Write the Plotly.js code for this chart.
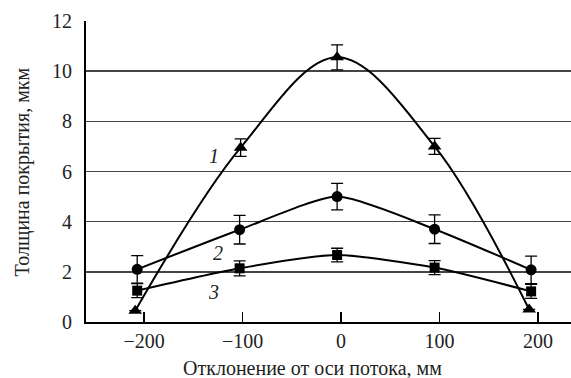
<!DOCTYPE html>
<html>
<head>
<meta charset="utf-8">
<script src="https://cdn.plot.ly/plotly-3.0.1.min.js"></script>
<style>html,body{margin:0;padding:0;background:#fff;}#chart{width:571px;height:378px;}</style>
</head>
<body>
<div id="chart"></div>
<script>
// Data
const xTri = [-209, -102, -4, 95, 191];
const yTri = [0.45, 6.95, 10.55, 7.0, 0.5];
const eTri = [0, 0.35, 0.5, 0.32, 0];

const xCirc = [-207, -103, -4, 95, 193];
const yCirc = [2.1, 3.68, 5.0, 3.7, 2.08];
const eCirc = [0.55, 0.57, 0.53, 0.57, 0.55];

const xSq = [-207, -103, -4, 95, 193];
const ySq = [1.25, 2.14, 2.67, 2.17, 1.22];
const eSq = [0.28, 0.3, 0.27, 0.28, 0.28];

const curveLabels = ["1", "2", "3"];
const labelX = [-129, -125, -130];
const labelY = [6.6, 2.76, 1.21];

const xTicks = [-200, -100, 0, 100, 200];
const xTickText = ["\u2212200", "\u2212100", "0", "100", "200"];
const yTicks = [0, 2, 4, 6, 8, 10, 12];

const xTitle = "Отклонение от оси потока, мм";
const yTitle = "Толщина покрытия, мкм";

const font = "'Liberation Serif', 'Times New Roman', serif";

function series(x, y, e, symbol, size, smooth) {
  return {
    x: x, y: y, type: 'scatter', mode: 'lines+markers',
    line: {shape: 'spline', smoothing: smooth, color: '#000', width: 2},
    marker: {symbol: symbol, size: size, color: '#000'},
    error_y: {type: 'data', array: e, visible: true, color: '#000', thickness: 1.3, width: 6},
    showlegend: false, hoverinfo: 'skip'
  };
}

const data = [
  series(xTri, yTri, eTri, 'triangle-up', 12, 1),
  series(xCirc, yCirc, eCirc, 'circle', 11, 0.6),
  series(xSq, ySq, eSq, 'square', 10, 0.6)
];

const annotations = curveLabels.map((t, i) => ({
  x: labelX[i], y: labelY[i], xref: 'x', yref: 'y', text: '<i>' + t + '</i>',
  showarrow: false, font: {family: font, size: 20, color: '#222'}
}));
annotations.push({
  x: 0.467, y: -0.153, xref: 'paper', yref: 'paper', xanchor: 'center', yanchor: 'middle',
  text: xTitle, showarrow: false, font: {family: font, size: 20, color: '#222'}
});
annotations.push({
  x: -0.13, y: 0.5, xref: 'paper', yref: 'paper', xanchor: 'center', yanchor: 'middle',
  text: yTitle, textangle: -90, showarrow: false, font: {family: font, size: 20, color: '#222'}
});

const layout = {
  width: 571, height: 378,
  margin: {l: 86, r: 0, t: 21, b: 56, pad: 0},
  paper_bgcolor: '#fff', plot_bgcolor: '#fff',
  font: {family: font, size: 20, color: '#222'},
  showlegend: false,
  xaxis: {
    range: [-259, 233.5], tickvals: xTicks, ticktext: xTickText,
    ticks: 'inside', ticklen: 10, tickwidth: 1.3, tickcolor: '#000',
    showgrid: false, zeroline: false, showline: true, linecolor: '#000', linewidth: 2,
    tickfont: {family: font, size: 20, color: '#222'}
  },
  yaxis: {
    range: [0, 12], tickvals: yTicks,
    ticks: '', showgrid: true, gridcolor: '#444', gridwidth: 1.6,
    zeroline: false, showline: true, linecolor: '#000', linewidth: 2,
    ticklabelstandoff: 8,
    tickfont: {family: font, size: 20, color: '#222'}
  },
  annotations: annotations
};

Plotly.newPlot('chart', data, layout, {staticPlot: true, displayModeBar: false});
</script>
</body>
</html>
